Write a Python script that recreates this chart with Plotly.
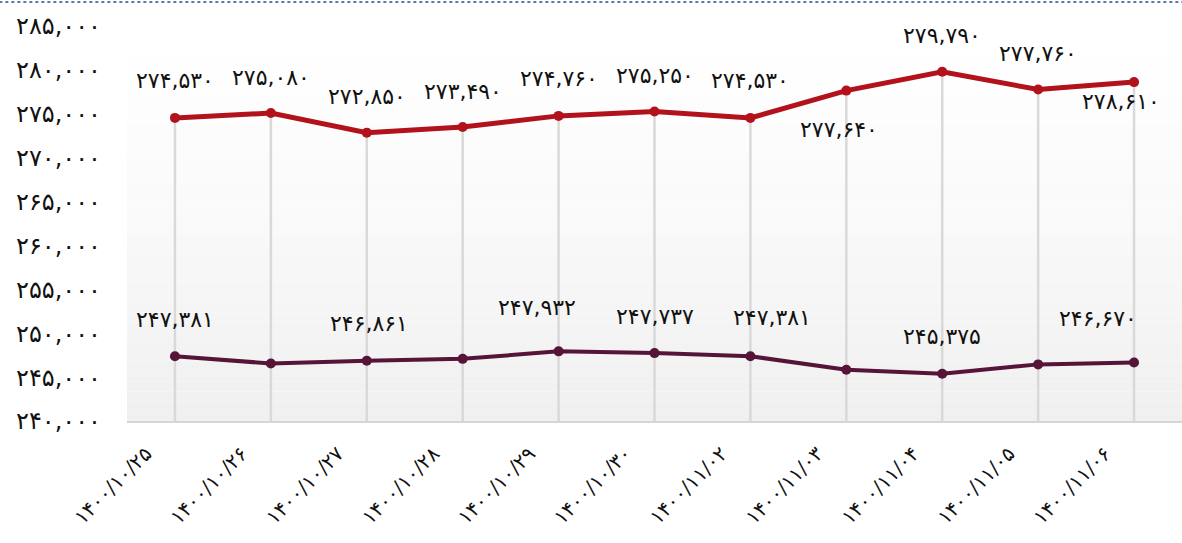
import plotly.graph_objects as go

# ---- data ----
dates = ["۱۴۰۰/۱۰/۲۵", "۱۴۰۰/۱۰/۲۶", "۱۴۰۰/۱۰/۲۷", "۱۴۰۰/۱۰/۲۸", "۱۴۰۰/۱۰/۲۹", "۱۴۰۰/۱۰/۳۰",
         "۱۴۰۰/۱۱/۰۲", "۱۴۰۰/۱۱/۰۳", "۱۴۰۰/۱۱/۰۴", "۱۴۰۰/۱۱/۰۵", "۱۴۰۰/۱۱/۰۶"]
red_values = [274530, 275080, 272850, 273490, 274760, 275250, 274530, 277640, 279790, 277760, 278610]
dark_values = [247381, 246550, 246861, 247080, 247932, 247737, 247381, 245830, 245375, 246450, 246670]
dark_label_shown = [True, False, True, False, True, True, True, False, True, False, True]
y_ticks = list(range(240000, 285001, 5000))

# ---- styles ----
RED = "#b2121b"
DARK = "#561438"
FONT = "DejaVu Sans"
red_label_shift = [37, 36, 36, 36, 37, 36, 37, -39, 36, 36, -19]
red_label_xshift = [0, 0, 0, 0, 0, 0, 0, -7, 0, 0, -13]
dark_label_shift = [37, 0, 37, 0, 44, 37, 39, 0, 37, 0, 44]
dark_label_xshift = [0, 0, 2, 0, -22, 0, 22, 0, 0, 0, -36]

FA = str.maketrans("0123456789", "۰۱۲۳۴۵۶۷۸۹")


def fa(n):
    return f"{n:,}".translate(FA)


fig = go.Figure()

# gradient background of plot area
steps = 40
for i in range(steps):
    t = i / (steps - 1)
    c = int(round(255 - (t ** 1.3) * 15))
    fig.add_shape(type="rect", xref="paper", yref="paper",
                  x0=0, x1=1, y0=1 - (i + 1) / steps, y1=1 - i / steps,
                  fillcolor=f"rgb({c},{c},{c})", line_width=0, layer="below")

# drop lines from the upper series down to the axis
dx, dy = [], []
for d, v in zip(dates, red_values):
    dx += [d, d, None]
    dy += [y_ticks[0], v, None]
fig.add_trace(go.Scatter(x=dx, y=dy, mode="lines", line=dict(color="#d9d9d9", width=2.5),
                         hoverinfo="skip", showlegend=False))

fig.add_trace(go.Scatter(x=dates, y=red_values, mode="lines+markers",
                         line=dict(color=RED, width=5), marker=dict(color=RED, size=10),
                         showlegend=False, cliponaxis=False))
fig.add_trace(go.Scatter(x=dates, y=dark_values, mode="lines+markers",
                         line=dict(color=DARK, width=4), marker=dict(color=DARK, size=10),
                         showlegend=False, cliponaxis=False))

for i, (d, v) in enumerate(zip(dates, red_values)):
    fig.add_annotation(x=d, y=v, text=fa(v), showarrow=False, yshift=red_label_shift[i],
                       xshift=red_label_xshift[i], font=dict(family=FONT, size=22, color="#111"))
for i, (d, v) in enumerate(zip(dates, dark_values)):
    if dark_label_shown[i]:
        fig.add_annotation(x=d, y=v, text=fa(v), showarrow=False, yshift=dark_label_shift[i],
                           xshift=dark_label_xshift[i], font=dict(family=FONT, size=22, color="#111"))

# dashed top border
fig.add_shape(type="line", xref="paper", yref="paper", x0=-0.121, x1=1.0, y0=1.061, y1=1.061,
              line=dict(color="#2a4a86", width=1.5, dash="dot"))

fig.update_layout(
    width=1182, height=543,
    margin=dict(l=127, r=0, t=26, b=122),
    paper_bgcolor="white", plot_bgcolor="rgba(0,0,0,0)",
    font=dict(family=FONT, color="#111"),
    xaxis=dict(type="category", range=[-0.5, len(dates) - 0.5], tickangle=-45,
               tickfont=dict(size=20, family=FONT), showgrid=False, zeroline=False,
               showline=True, linecolor="#d6d6d6", linewidth=2, ticks="", automargin=False,
               ticklabelstandoff=11, ticklabelshift=-29),
    yaxis=dict(range=[y_ticks[0], y_ticks[-1]], tickvals=y_ticks, ticktext=[fa(v) for v in y_ticks],
               tickfont=dict(size=24, family=FONT), showgrid=False, zeroline=False,
               showline=False, ticklabelstandoff=25, automargin=False),
)

fig.write_html("out.html", config={"displayModeBar": False},
               post_script="document.body.style.margin='0';document.body.style.overflow='hidden';")
